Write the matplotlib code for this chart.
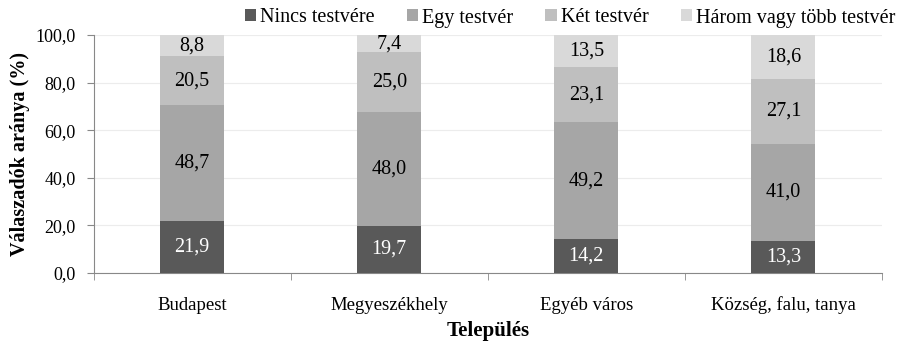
import matplotlib
matplotlib.use("Agg")
import matplotlib.pyplot as plt
import numpy as np

categories = ["Budapest", "Megyeszékhely", "Egyéb város", "Község, falu, tanya"]
series_names = ["Nincs testvére", "Egy testvér", "Két testvér", "Három vagy több testvér"]
nincs = [21.9, 19.7, 14.2, 13.3]
egy = [48.7, 48.0, 49.2, 41.0]
ket = [20.5, 25.0, 23.1, 27.1]
harom = [8.8, 7.4, 13.5, 18.6]
yticks = [0, 20, 40, 60, 80, 100]

colors = ["#595959", "#a6a6a6", "#bfbfbf", "#d9d9d9"]
text_colors = ["white", "black", "black", "black"]

plt.rcParams["font.family"] = ["Liberation Serif", "DejaVu Serif"]

fig = plt.figure(figsize=(9, 3.42), dpi=100)
ax = fig.add_axes([0.104, 0.2018, 0.876, 0.6959])

x = np.arange(len(categories))
bottom = np.zeros(len(categories))
handles = []
for vals, name, c, tc in zip([nincs, egy, ket, harom], series_names, colors, text_colors):
    bars = ax.bar(x, vals, width=0.325, bottom=bottom, color=c, label=name, zorder=3)
    handles.append(bars)
    for xi, b, v in zip(x, bottom, vals):
        ax.text(xi, b + v / 2, f"{v:.1f}".replace(".", ","), ha="center", va="center",
                color=tc, fontsize=14.5, zorder=4)
    bottom += np.array(vals)

ax.set_xlim(-0.5, len(categories) - 0.5)
ax.set_ylim(0, 100)
ax.set_yticks(yticks)
ax.set_yticklabels([f"{t:.1f}".replace(".", ",") for t in yticks], fontsize=13)
ax.yaxis.grid(True, color="#ececec", linewidth=0.8, zorder=0)
ax.set_axisbelow(True)

ax.set_xticks(x)
ax.set_xticklabels(categories, fontsize=13.5)
ax.tick_params(axis="x", length=0, pad=17)
ax.set_xticks(np.arange(len(categories) + 1) - 0.5, minor=True)
ax.tick_params(axis="x", which="minor", length=5, color="#888888", direction="out")
ax.tick_params(axis="y", length=5, color="#888888", direction="out", pad=8)

for s in ["top", "right"]:
    ax.spines[s].set_visible(False)
for s in ["left", "bottom"]:
    ax.spines[s].set_color("#888888")
    ax.spines[s].set_linewidth(0.8)

ax.set_ylabel("Válaszadók aránya (%)", fontsize=14.5, fontweight="bold", labelpad=4)
ax.set_xlabel("Település", fontsize=15, fontweight="bold", labelpad=5)

fig.legend(handles=handles, labels=series_names, loc="center right",
           bbox_to_anchor=(895 / 900, 1 - 18 / 342), ncol=4, frameon=False,
           fontsize=14.5, borderpad=0, borderaxespad=0,
           handlelength=0.55, handleheight=0.55, handletextpad=0.2, columnspacing=1.6)

fig.savefig("out.png", dpi=100)
